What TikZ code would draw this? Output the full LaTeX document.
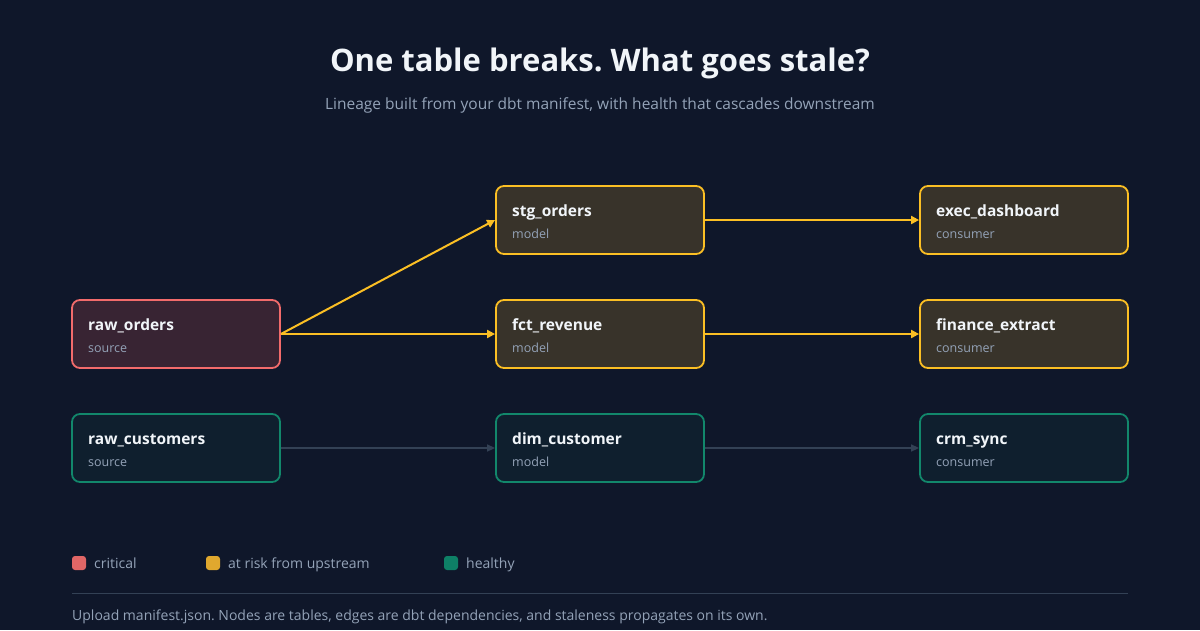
\documentclass[tikz,border=0pt]{standalone}
\usepackage{fontspec}
\setmainfont{Open Sans}[Ligatures={NoCommon}]
\frenchspacing
\usetikzlibrary{arrows.meta}
\definecolor{bg}{HTML}{0F172A}
\definecolor{tw}{HTML}{F1F5F9}
\definecolor{tg}{HTML}{94A3B8}
\definecolor{rs}{HTML}{F26B6B}\definecolor{rf}{HTML}{382433}
\definecolor{ys}{HTML}{FBBF24}\definecolor{yf}{HTML}{38332A}
\definecolor{gs}{HTML}{12876B}\definecolor{gf}{HTML}{0F1F2E}
\definecolor{eg}{HTML}{334155}
\definecolor{cr}{HTML}{E06666}\definecolor{cy}{HTML}{E0A82E}\definecolor{cg}{HTML}{0E8066}
\begin{document}
\begin{tikzpicture}[x=1pt,y=-1pt,
 box/.style={draw,line width=1.8pt,rounded corners=8pt,minimum width=208pt,minimum height=68pt,inner sep=0pt},
 crit/.style={box,draw=rs,fill=rf},
 risk/.style={box,draw=ys,fill=yf},
 ok/.style={box,draw=gs,fill=gf},
 nm/.style={anchor=base west,inner sep=0pt,text=tw,font=\fontsize{15.5}{18}\selectfont\bfseries},
 sb/.style={anchor=base west,inner sep=0pt,text=tg,font=\fontsize{12.5}{15}\selectfont},
 ye/.style={draw=ys,line width=2pt,-{Triangle[length=8pt,width=8pt]}},
 ge/.style={draw=eg,line width=1.5pt,-{Triangle[length=8pt,width=7pt]}},
 lt/.style={anchor=base west,inner sep=0pt,text=tg,font=\fontsize{14}{16}\selectfont}]
\fill[bg] (0,0) rectangle (1200,630);
\useasboundingbox (0,0) rectangle (1200,630);
\node[text=tw,anchor=base,font=\fontsize{31}{36}\selectfont\bfseries] (title) at (600,71) {One table breaks. What goes stale?};
\node[text=tg,anchor=base,font=\fontsize{15.5}{18}\selectfont] (sub) at (600,109) {Lineage built from your dbt manifest, with health that cascades downstream};
\def\nd#1#2#3#4#5#6{\node[#2] (#1) at (#3,#4) {};
 \node[nm] (#1t) at (#3-88,#4-4) {#5};
 \node[sb] (#1s) at (#3-88,#4+18) {#6};}
\nd{ro}{crit}{176}{334}{raw\_orders}{source}
\nd{rc}{ok}{176}{448}{raw\_customers}{source}
\nd{so}{risk}{600}{220}{stg\_orders}{model}
\nd{fr}{risk}{600}{334}{fct\_revenue}{model}
\nd{dc}{ok}{600}{448}{dim\_customer}{model}
\nd{ed}{risk}{1024}{220}{exec\_dashboard}{consumer}
\nd{fe}{risk}{1024}{334}{finance\_extract}{consumer}
\nd{cs}{ok}{1024}{448}{crm\_sync}{consumer}
\draw[ye] (ro.east) -- (so.west);
\draw[ye] (ro.east) -- (fr.west);
\draw[ye] (so.east) -- (ed.west);
\draw[ye] (fr.east) -- (fe.west);
\draw[ge] (rc.east) -- (dc.west);
\draw[ge] (dc.east) -- (cs.west);
\fill[cr,rounded corners=3pt] (72,556) rectangle (86,570);
\node[lt] (l1) at (94,568) {critical};
\fill[cy,rounded corners=3pt] (206,556) rectangle (220,570);
\node[lt] (l2) at (228,568) {at risk from upstream};
\fill[cg,rounded corners=3pt] (444,556) rectangle (458,570);
\node[lt] (l3) at (466,568) {healthy};
\coordinate (d1) at (72,593); \coordinate (d2) at (1128,593);
\draw[eg,line width=1pt] (d1) -- (d2);
\node[lt] (foot) at (72,620) {Upload manifest.json. Nodes are tables, edges are dbt dependencies, and staleness propagates on its own.};
\end{tikzpicture}
\end{document}
